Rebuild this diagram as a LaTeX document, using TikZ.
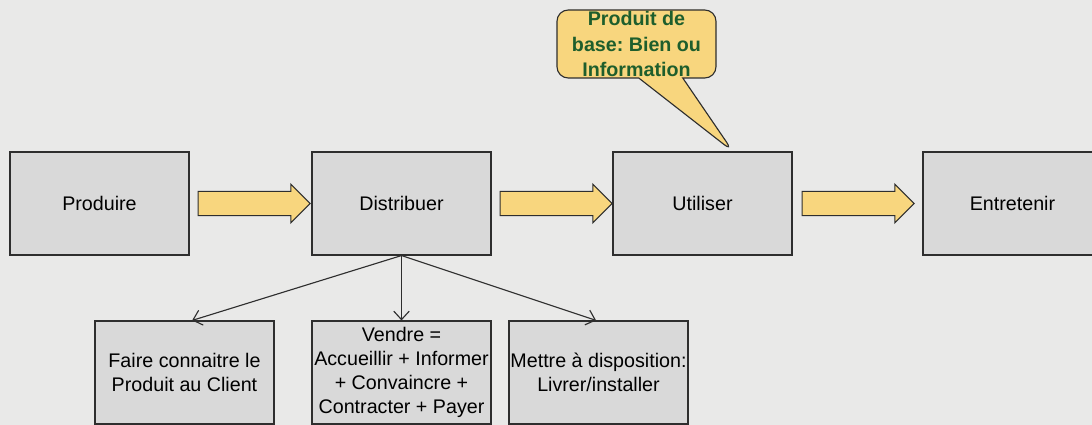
\documentclass[tikz,border=0pt]{standalone}
\usepackage{fontspec}
\setmainfont{Liberation Sans}
\usetikzlibrary{positioning,calc,shapes.arrows,shapes.callouts,arrows.meta}
\definecolor{bgcol}{HTML}{E9E9E8}
\definecolor{boxcol}{HTML}{D9D9D9}
\definecolor{linecol}{HTML}{2E2E2E}
\definecolor{flowcol}{HTML}{F8D67E}
\definecolor{notecol}{HTML}{1E5E2C}
\frenchspacing
\begin{document}
\begin{tikzpicture}[thick,
  step box/.style={rectangle,draw=linecol,fill=boxcol,minimum width=4.475cm,minimum height=2.575cm,
    align=center,inner sep=0pt,font=\fontsize{14}{17}\selectfont},
  flow arrow/.style={single arrow,draw=linecol,fill=flowcol,minimum height=2.8cm,minimum width=0.925cm,
    single arrow head extend=0.175cm,inner xsep=0pt,inner ysep=0.29cm},
  sub arrow/.style={-{Straight Barb[length=6pt,width=11pt]},thick,linecol}]
\fill[bgcol] (0,0) rectangle (27.3,-10.625);
\useasboundingbox (0,0) rectangle (27.3,-10.625);
% main chain
\node [step box](prod) at (2.4875,-5.0875) {Produire};
\node [step box](dist) at (10.0375,-5.0875) {Distribuer};
\node [step box](util) at (17.5625,-5.0875) {Utiliser};
\node [step box](entr) at (25.3125,-5.0875) {Entretenir};
\node [flow arrow](a1) at (6.2,-5.0875) {};
\node [flow arrow](a2) at (13.75,-5.0875) {};
\node [flow arrow](a3) at (21.3,-5.0875) {};
% sub tasks
\node [step box](know) at (4.6125,-9.3125) {Faire connaitre le\\Produit au Client};
\node [step box](sell) at (10.0375,-9.3125) {Vendre =\\Accueillir + Informer\\+ Convaincre +\\Contracter + Payer};
\node [step box](deliv) at (14.9625,-9.3125) {Mettre à disposition:\\Livrer/installer};
\draw [sub arrow] (dist.south) -- ($(know.north)+(0.19,0)$);
\draw [sub arrow] (dist.south) -- (sell.north);
\draw [sub arrow] (dist.south) -- ($(deliv.north)-(0.06,0)$);
% note
\node [rectangle callout,rounded corners=8pt,draw=linecol,fill=flowcol,minimum width=3.975cm,minimum height=1.7cm,
  inner sep=0pt,align=center,text=notecol,font=\fontsize{14}{18}\selectfont\bfseries,
  callout pointer width=1.1cm,callout absolute pointer={($(util.north)+(0.76,0)$)}](note) at (15.9125,-1.1)
  {Produit de\\base: Bien ou\\Information};
\end{tikzpicture}
\end{document}
